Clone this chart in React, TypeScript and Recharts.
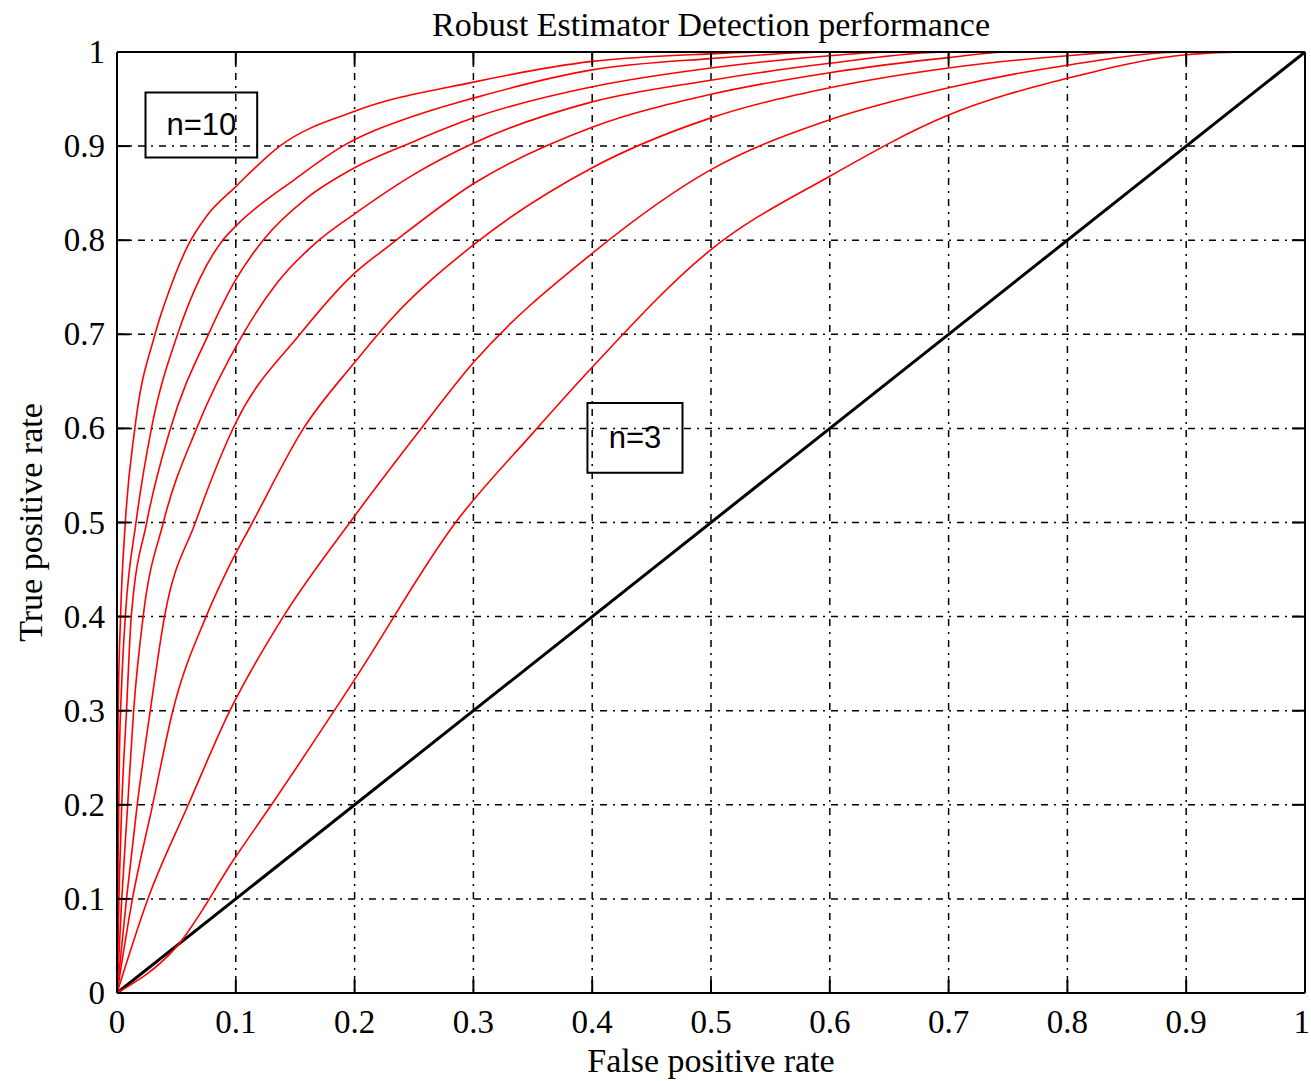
import React from 'react';
import { LineChart, Line, XAxis, YAxis, CartesianGrid, ReferenceArea } from 'recharts';

// axis ticks (shared by both axes)
const axisTicks = [0, 0.1, 0.2, 0.3, 0.4, 0.5, 0.6, 0.7, 0.8, 0.9, 1];

// ROC curves: false positive rate / true positive rate
const fprN10 = [0, 0.0005, 0.001, 0.003, 0.007, 0.015, 0.032, 0.045, 0.06, 0.075, 0.1, 0.137, 0.2, 0.3, 0.4, 0.5, 0.55, 1];
const tprN10 = [0, 0.2, 0.3, 0.4, 0.5, 0.6, 0.7, 0.75, 0.795, 0.825, 0.857, 0.9, 0.937, 0.968, 0.99, 0.998, 1, 1];

const fprN9 = [0, 0.001, 0.002, 0.004, 0.007, 0.016, 0.029, 0.051, 0.07, 0.089, 0.1, 0.15, 0.19, 0.25, 0.3, 0.4, 0.5, 0.6, 1];
const tprN9 = [0, 0.15, 0.25, 0.33, 0.4, 0.5, 0.6, 0.7, 0.76, 0.8, 0.815, 0.865, 0.9, 0.932, 0.951, 0.981, 0.993, 1, 1];

const fprN8 = [0, 0.002, 0.004, 0.008, 0.012, 0.025, 0.045, 0.077, 0.1, 0.123, 0.16, 0.2, 0.25, 0.3, 0.4, 0.5, 0.6, 0.65, 1];
const tprN8 = [0, 0.12, 0.2, 0.3, 0.4, 0.5, 0.6, 0.7, 0.758, 0.8, 0.845, 0.877, 0.905, 0.93, 0.963, 0.983, 0.996, 1, 1];

const fprN7 = [0, 0.004, 0.009, 0.014, 0.022, 0.039, 0.067, 0.106, 0.135, 0.17, 0.2, 0.25, 0.3, 0.4, 0.5, 0.6, 0.7, 1];
const tprN7 = [0, 0.1, 0.2, 0.3, 0.4, 0.5, 0.6, 0.7, 0.755, 0.8, 0.828, 0.87, 0.903, 0.947, 0.97, 0.988, 1, 1];

const fprN6 = [0, 0.008, 0.017, 0.028, 0.04, 0.066, 0.1, 0.154, 0.2, 0.23, 0.3, 0.4, 0.5, 0.6, 0.7, 0.75, 1];
const tprN6 = [0, 0.1, 0.2, 0.3, 0.4, 0.5, 0.606, 0.7, 0.765, 0.795, 0.86, 0.92, 0.955, 0.978, 0.994, 1, 1];

const fprN5 = [0, 0.013, 0.03, 0.047, 0.075, 0.093, 0.114, 0.157, 0.2, 0.23, 0.3, 0.4, 0.5, 0.6, 0.7, 0.8, 0.85, 1];
const tprN5 = [0, 0.1, 0.2, 0.3, 0.4, 0.45, 0.5, 0.6, 0.67, 0.715, 0.795, 0.877, 0.93, 0.962, 0.983, 0.996, 1, 1];

const fprN4 = [0, 0.026, 0.06, 0.095, 0.14, 0.196, 0.25, 0.3, 0.4, 0.5, 0.6, 0.7, 0.8, 0.9, 1];
const tprN4 = [0, 0.1, 0.2, 0.3, 0.4, 0.5, 0.59, 0.67, 0.786, 0.875, 0.928, 0.962, 0.986, 1, 1];

const fprN3 = [0, 0.05, 0.1, 0.13, 0.2, 0.285, 0.35, 0.4, 0.5, 0.6, 0.7, 0.8, 0.9, 0.95, 1];
const tprN3 = [0, 0.049, 0.145, 0.2, 0.333, 0.5, 0.595, 0.665, 0.79, 0.868, 0.933, 0.972, 0.997, 1, 1];

// chance line
const fprChance = [0, 1];
const tprChance = [0, 1];

const toPoints = (fpr: number[], tpr: number[]) => fpr.map((x, i) => ({ x, y: tpr[i] }));

const rocCurves = [
  { name: 'n=10', points: toPoints(fprN10, tprN10) },
  { name: 'n=9', points: toPoints(fprN9, tprN9) },
  { name: 'n=8', points: toPoints(fprN8, tprN8) },
  { name: 'n=7', points: toPoints(fprN7, tprN7) },
  { name: 'n=6', points: toPoints(fprN6, tprN6) },
  { name: 'n=5', points: toPoints(fprN5, tprN5) },
  { name: 'n=4', points: toPoints(fprN4, tprN4) },
  { name: 'n=3', points: toPoints(fprN3, tprN3) },
];

const SERIF = '"Liberation Serif", "Times New Roman", serif';
const SANS = '"Liberation Sans", Arial, sans-serif';
const TICK_LEN = 13;

const fmtTick = (v: number) => (v === 0 || v === 1 ? String(v) : v.toFixed(1));

const BottomTick = ({ x, y, payload }: any) => {
  const last = payload.value === 1;
  return (
    <g>
      <line x1={x} y1={y} x2={x} y2={y - TICK_LEN} stroke="#000" strokeWidth={2} />
      <text x={last ? x + 5 : x} y={y + 29} textAnchor={last ? 'end' : 'middle'} dominantBaseline="central"
        fontFamily={SERIF} fontSize={33} fill="#000">
        {fmtTick(payload.value)}
      </text>
    </g>
  );
};

const LeftTick = ({ x, y, payload }: any) => (
  <g>
    <line x1={x} y1={y} x2={x + TICK_LEN} y2={y} stroke="#000" strokeWidth={2} />
    <text x={x - 12} y={y} textAnchor="end" dominantBaseline="central" fontFamily={SERIF} fontSize={33} fill="#000">
      {fmtTick(payload.value)}
    </text>
  </g>
);

const TopTick = ({ x, y }: any) => <line x1={x} y1={y} x2={x} y2={y + TICK_LEN} stroke="#000" strokeWidth={2} />;

const RightTick = ({ x, y }: any) => <line x1={x} y1={y} x2={x - TICK_LEN} y2={y} stroke="#000" strokeWidth={2} />;

const YTitle = ({ viewBox }: any) => {
  const cx = viewBox.x + 30;
  const cy = viewBox.y + viewBox.height / 2;
  return (
    <text x={cx} y={cy} transform={`rotate(-90, ${cx}, ${cy})`} textAnchor="middle" dominantBaseline="central"
      fontFamily={SERIF} fontSize={34} fill="#000">
      True positive rate
    </text>
  );
};

const BoxText = ({ viewBox, value }: any) => (
  <text x={viewBox.x + viewBox.width / 2} y={viewBox.y + viewBox.height / 2} textAnchor="middle" dominantBaseline="central"
    fontFamily={SANS} fontSize={31} fill="#000">
    {value}
  </text>
);

export default function App() {
  return (
    <div style={{ position: 'absolute', left: 0, top: 0, width: 1311, height: 1081, background: '#fff' }}>
      <LineChart width={1311} height={1081} margin={{ top: 51, right: 5, bottom: 0, left: 0 }}>
        <CartesianGrid stroke="#000" strokeWidth={1.5} strokeDasharray="7 6 2 6" />
        <XAxis dataKey="x" type="number" domain={[0, 1]} ticks={axisTicks} interval={0} allowDataOverflow
          height={88} tickSize={0} tickMargin={0} tick={<BottomTick />} tickLine={false}
          axisLine={{ stroke: '#000', strokeWidth: 2 }}
          label={{ value: 'False positive rate', position: 'insideBottom', offset: 9, fontFamily: SERIF, fontSize: 34, fill: '#000' }} />
        <XAxis xAxisId="top" orientation="top" dataKey="x" type="number" domain={[0, 1]} ticks={axisTicks} interval={0}
          allowDataOverflow height={1} tickSize={0} tickMargin={0} tick={<TopTick />} tickLine={false}
          axisLine={{ stroke: '#000', strokeWidth: 2 }}
          label={{ value: 'Robust Estimator Detection performance', position: 'top', offset: 15, fontFamily: SERIF, fontSize: 34, fill: '#000' }} />
        <YAxis type="number" domain={[0, 1]} ticks={axisTicks} interval={0} allowDataOverflow width={117}
          tickSize={0} tickMargin={0} tick={<LeftTick />} tickLine={false}
          axisLine={{ stroke: '#000', strokeWidth: 2 }} label={{ content: <YTitle /> }} />
        <YAxis yAxisId="right" orientation="right" type="number" domain={[0, 1]} ticks={axisTicks} interval={0}
          allowDataOverflow width={1} tickSize={0} tickMargin={0} tick={<RightTick />} tickLine={false}
          axisLine={{ stroke: '#000', strokeWidth: 2 }} />
        <Line xAxisId="top" yAxisId="right" data={toPoints(fprChance, tprChance)} dataKey="y" type="linear"
          stroke="#000" strokeWidth={3} dot={false} activeDot={false} isAnimationActive={false} />
        {rocCurves.map((c) => (
          <Line key={c.name} data={c.points} dataKey="y" name={c.name} type="monotone" stroke="#ff0000" strokeWidth={1.6}
            dot={false} activeDot={false} isAnimationActive={false} />
        ))}
        <ReferenceArea x1={0.024} x2={0.118} y1={0.888} y2={0.957} fill="none" stroke="#000" strokeWidth={2}
          label={{ value: 'n=10', content: <BoxText /> }} />
        <ReferenceArea x1={0.396} x2={0.476} y1={0.553} y2={0.627} fill="none" stroke="#000" strokeWidth={2}
          label={{ value: 'n=3', content: <BoxText /> }} />
      </LineChart>
    </div>
  );
}
